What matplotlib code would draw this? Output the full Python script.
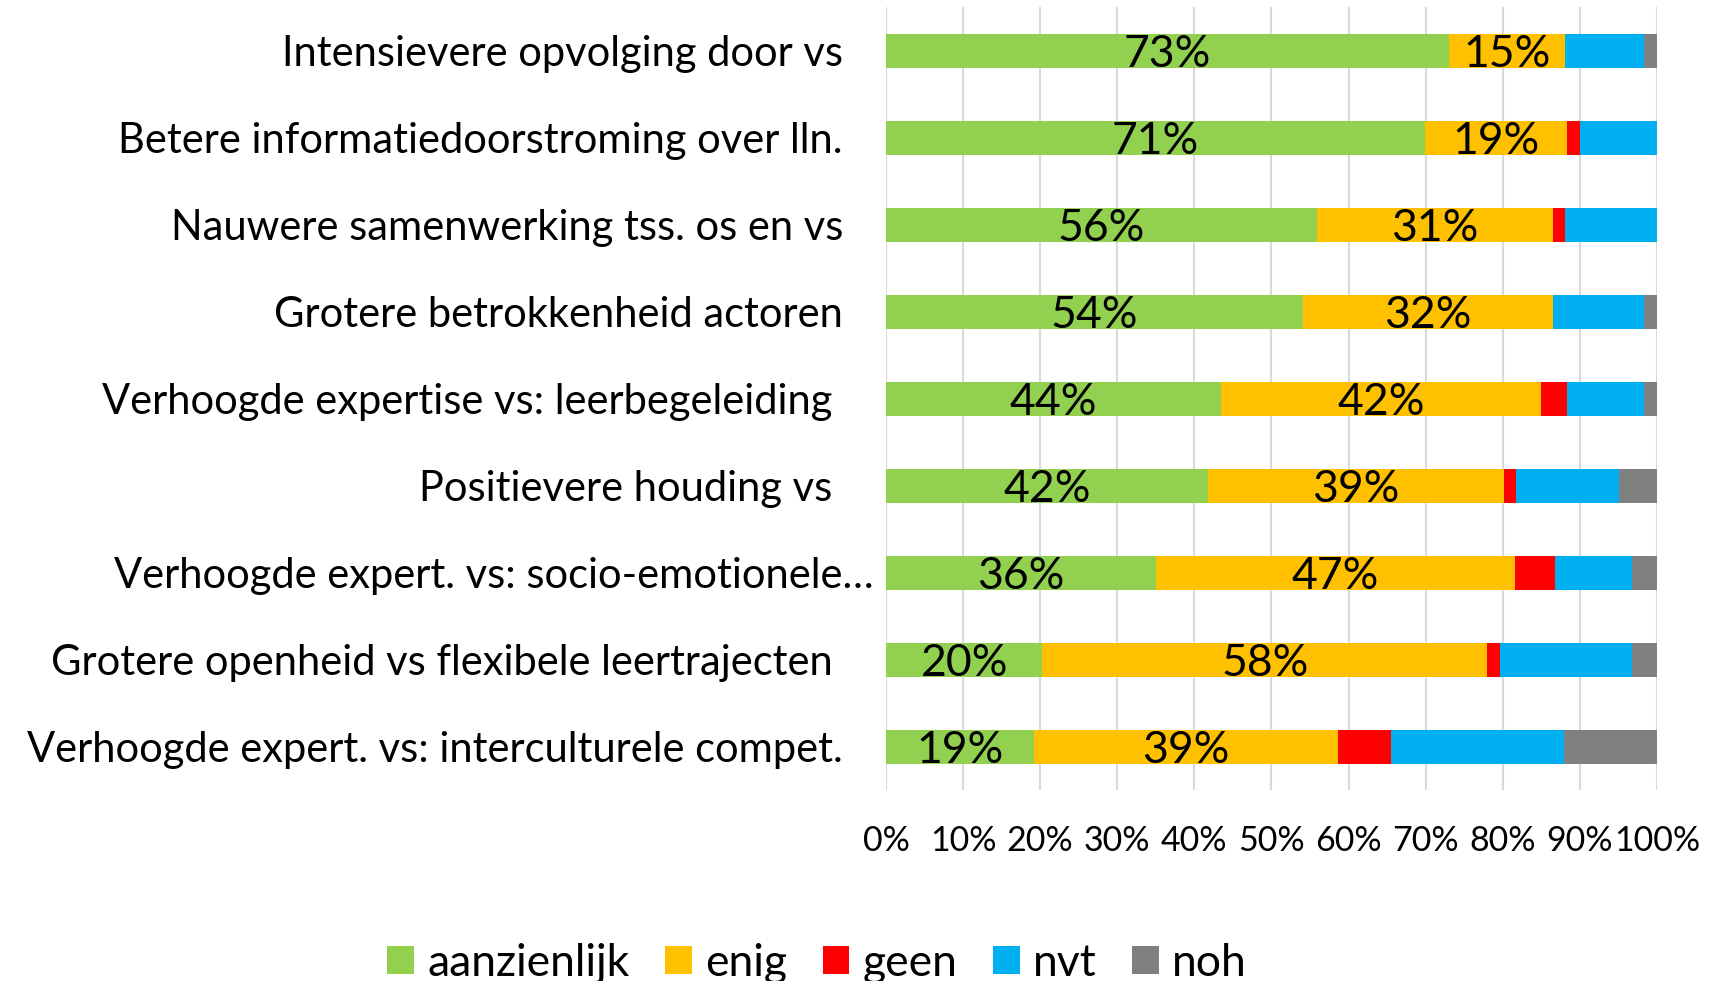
import matplotlib
matplotlib.use("Agg")
import matplotlib.pyplot as plt
import matplotlib.transforms as mtransforms
import numpy as np

categories = [
    "Intensievere opvolging door vs",
    "Betere informatiedoorstroming over lln.",
    "Nauwere samenwerking tss. os en vs",
    "Grotere betrokkenheid actoren",
    "Verhoogde expertise vs: leerbegeleiding ",
    "Positievere houding vs ",
    "Verhoogde expert. vs: socio-emotionele…",
    "Grotere openheid vs flexibele leertrajecten ",
    "Verhoogde expert. vs: interculturele compet.",
]
aanzienlijk = [73.0, 71.0, 56.0, 54.0, 44.0, 42.0, 35.6, 20.3, 19.2]
enig        = [15.1, 18.6, 30.6, 32.3, 42.2, 38.7, 47.4, 57.7, 39.4]
geen        = [0.0, 1.7, 1.6, 0.0, 3.3, 1.6, 5.2, 1.7, 6.9]
nvt         = [10.2, 10.2, 11.9, 11.8, 10.2, 13.4, 10.2, 17.1, 22.5]
noh         = [1.7, 0.0, 0.0, 1.7, 1.7, 5.0, 3.3, 3.2, 12.0]

series_names = ["aanzienlijk", "enig", "geen", "nvt", "noh"]
colors = ["#92D050", "#FFC000", "#FF0000", "#00B0F0", "#808080"]
labelled = [True, True, False, False, False]
xticks = [0, 10, 20, 30, 40, 50, 60, 70, 80, 90, 100]

FONT = "Lato"
plt.rcParams["font.family"] = [FONT, "DejaVu Sans"]

fig = plt.figure(figsize=(17.13, 9.81), dpi=100)
ax = fig.add_axes([0.5172, 0.1942, 0.4501, 0.7982])

data = np.array([aanzienlijk, enig, geen, nvt, noh], dtype=float)
totals = data.sum(axis=0)
norm = data / totals * 100.0
y = np.arange(len(categories))
left = np.zeros(len(categories))
handles = []
for i, name in enumerate(series_names):
    bars = ax.barh(y, norm[i], left=left, height=0.39, color=colors[i],
                   label=name, zorder=3)
    handles.append(bars)
    if labelled[i]:
        for j in range(len(categories)):
            ax.text(left[j] + norm[i][j] / 2, y[j], f"{round(data[i][j]):d}%",
                    ha="center", va="center_baseline", fontsize=32, color="black",
                    zorder=4)
    left += norm[i]

ax.set_xlim(0, 100)
ax.set_ylim(len(categories) - 0.5, -0.5)
ax.set_xticks(xticks)
ax.set_xticklabels([f"{t}%" for t in xticks], fontsize=24.5)
ax.set_yticks(y)
ax.set_yticklabels(categories, fontsize=30)
ax.tick_params(axis="x", length=0, pad=25)
ax.tick_params(axis="y", length=0, pad=31)
ax.grid(axis="x", color="#D9D9D9", linewidth=1.5, zorder=0)
for s in ax.spines.values():
    s.set_visible(False)

# truncated label extends further right
for lbl in ax.get_yticklabels():
    if lbl.get_text().endswith("…"):
        lbl.set_transform(lbl.get_transform() +
                          mtransforms.ScaledTranslation(31 / 100, 0, fig.dpi_scale_trans))

fig.legend(handles, series_names, loc="center", bbox_to_anchor=(0.477, 0.018),
           ncol=5, frameon=False, fontsize=32, handlelength=0.6, handleheight=0.6,
           handletextpad=0.3, columnspacing=0.8)

fig.savefig("out.png", dpi=100)
